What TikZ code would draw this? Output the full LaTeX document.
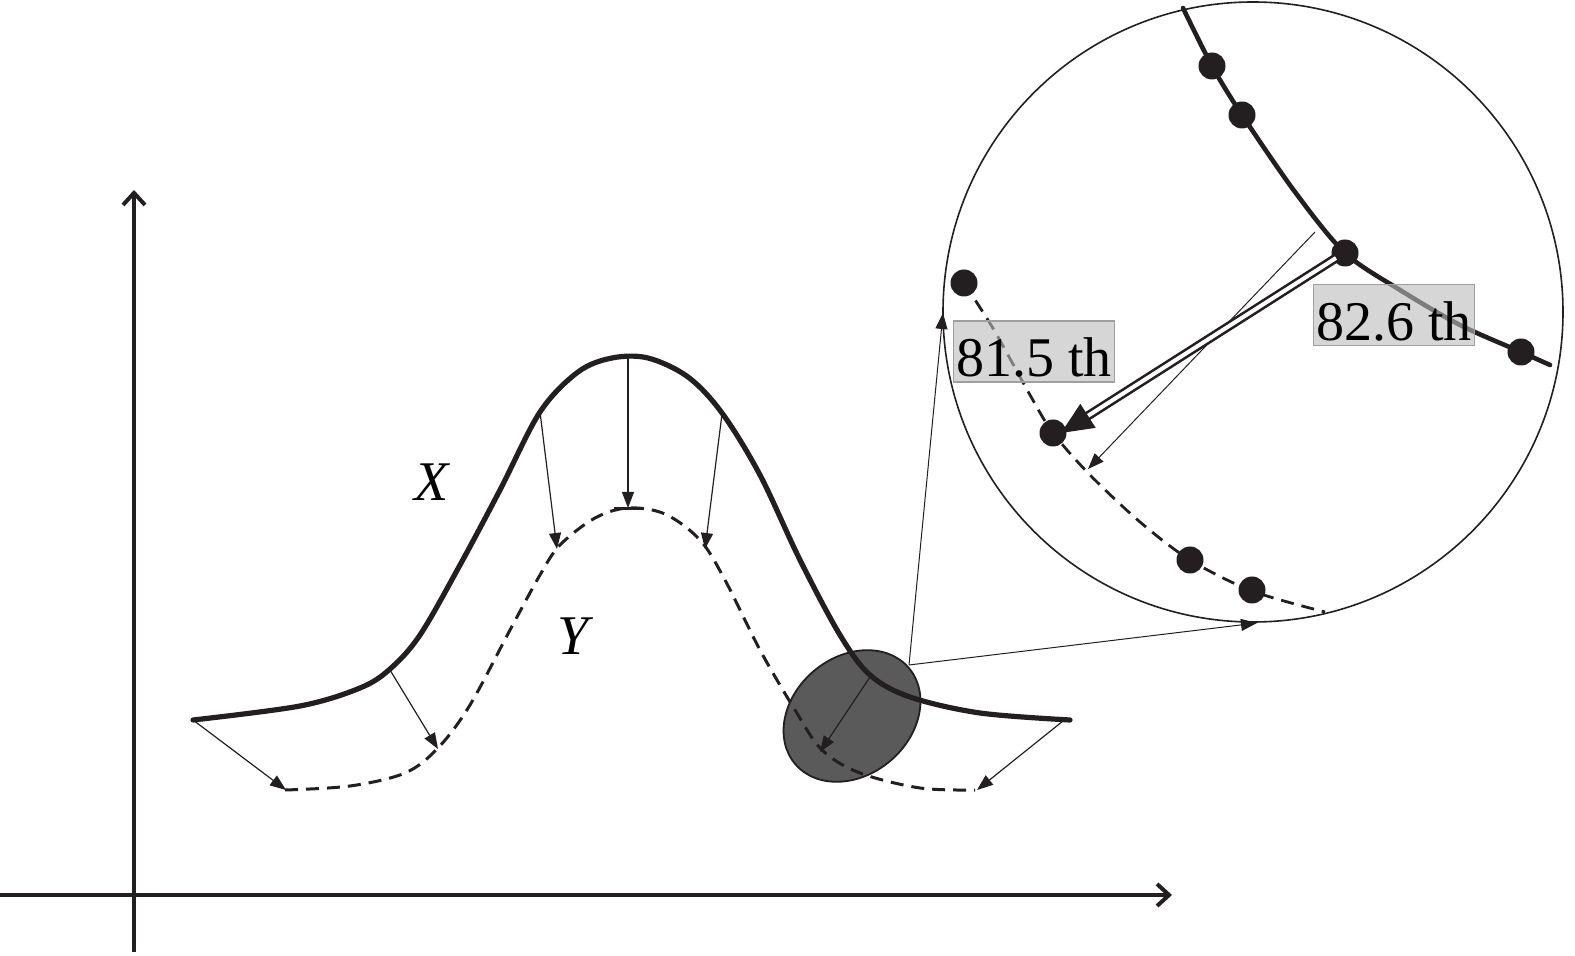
\documentclass[tikz,border=0pt]{standalone}
\usepackage{fontspec}
\setmainfont{Liberation Serif}
\usetikzlibrary{arrows.meta,calc}
\definecolor{ink}{HTML}{231F20}
\definecolor{boxgray}{HTML}{BBBBBB}
\definecolor{blob}{HTML}{5A5A5A}
\begin{document}
\begin{tikzpicture}[x=0.5pt,y=-0.5pt,
  axisline/.style={ink,line width=2pt,-{Straight Barb[length=6pt,width=11pt,line width=2pt]}},
  solidcurve/.style={ink,line width=2.6pt,line cap=round},
  dashcurve/.style={ink,line width=1.5pt,dash pattern=on 6.5pt off 4pt},
  thinarrow/.style={ink,line width=0.6pt,-{Triangle[length=8pt,width=6pt]}},
  dotmark/.style={circle,fill=ink,inner sep=0pt,minimum size=13.5pt},
  lbl/.style={draw=boxgray!85!black,fill=boxgray,fill opacity=0.6,text opacity=1,
    line width=0.6pt,inner xsep=1.5pt,inner ysep=2pt,text height=26pt,text depth=0.5pt,
    font=\fontsize{28}{30}\selectfont},
  varlbl/.style={font=\fontsize{28}{30}\selectfont\itshape}]
\useasboundingbox (0,0) rectangle (1575,956);

% blob (behind curves)
\draw[ink,line width=0.9pt,fill=blob,rotate around={40:(852,716)}] (852,716) ellipse [x radius=37.2pt, y radius=29.5pt];

% axes
\coordinate (ybot) at (134,952);
\coordinate (ytop) at (134,190);
\coordinate (xleft) at (0,895);
\coordinate (xright) at (1172,895);
\draw[axisline] (ybot) -- (ytop);
\draw[axisline] (xleft) -- (xright);

% curve X
\draw[solidcurve] plot[smooth,tension=0.55] coordinates {
 (193,720) (300,706) (360,688) (390,669) (420,635) (460,565) (500,490) (540,412)
 (578,372) (612,358) (648,358) (688,377) (722,413) (760,475) (800,560) (840,635)
 (870,675) (910,697) (980,713) (1070,720)};
% curve Y
\draw[dashcurve] plot[smooth,tension=0.55] coordinates {
 (285,790) (350,786) (405,773) (438,748) (470,705) (510,630) (540,575) (560,545)
 (595,518) (628,508) (665,514) (700,540) (725,580) (760,650) (795,710) (822,750)
 (860,773) (920,788) (975,790)};
\coordinate (tb1) at (614,509);
\coordinate (tb2) at (644,509);
\draw[ink,line width=1.5pt] (tb1) -- (tb2);

% arrows X -> Y
\coordinate (x1) at (193,720); \coordinate (y1) at (286,790);
\coordinate (x2) at (390,670); \coordinate (y2) at (438,749);
\coordinate (x3) at (540,412); \coordinate (y3) at (557,549);
\coordinate (x4) at (628,358); \coordinate (y4) at (628,508);
\coordinate (x5) at (722,414); \coordinate (y5) at (705,549);
\coordinate (x6) at (870,677); \coordinate (y6) at (820,752);
\coordinate (x7) at (1063,721); \coordinate (y7) at (977,790);
\foreach \a/\b in {x1/y1,x2/y2,x3/y3,x4/y4,x5/y5,x6/y6,x7/y7}
  \draw[thinarrow] (\a) -- (\b);

% magnifier circle
\coordinate (cc) at (1253,312);
\draw[ink,line width=0.8pt] (cc) circle [radius=155pt];
\coordinate (bs) at (909,665);
\coordinate (ct1) at (943,313);
\coordinate (ct2) at (1257,623);
\draw[thinarrow,line width=0.5pt] (bs) -- (ct1);
\draw[thinarrow,line width=0.5pt] (bs) -- (ct2);

% zoomed curves
\draw[solidcurve,line width=2.3pt] plot[smooth,tension=0.5] coordinates {
 (1183,8) (1212,66) (1242,115) (1295,192) (1345,253) (1400,290) (1460,325) (1521,352) (1550,365)};
\draw[dashcurve,line width=1.4pt] plot[smooth,tension=0.5] coordinates {
 (964,283) (994,330) (1030,395) (1053,433) (1090,475) (1140,522) (1190,560) (1252,591) (1325,612)};

% labels
\node[lbl] (l1) at (1034,351.5) {81.5 th};
\node[lbl] (l2) at (1394,315) {82.6 th};

% dots
\node[dotmark] (d1) at (1212,66) {};
\node[dotmark] (d2) at (1242,115) {};
\node[dotmark] (d3) at (1345,253) {};
\node[dotmark] (d4) at (1521,352) {};
\node[dotmark] (e1) at (964,283) {};
\node[dotmark] (e2) at (1053,433) {};
\node[dotmark] (e3) at (1190,560) {};
\node[dotmark] (e4) at (1252,590) {};

% thin and double arrows in circle
\coordinate (ts) at (1315,232);
\coordinate (te) at (1088,469);
\draw[thinarrow,line width=0.5pt] (ts) -- (te);
\coordinate (ds) at (1336,258);
\coordinate (de) at (1061,433);
\draw[ink,line width=1.3pt,double=white,double distance=2pt,shorten >=12pt] (ds) -- (de);
\draw[ink,line width=1pt,-{Triangle[length=16pt,width=14pt]}] ($(de)!14pt!(ds)$) -- (de);

% variable labels
\node[varlbl] (vx) at (432,482) {X};
\node[varlbl] (vy) at (573,636) {Y};
\end{tikzpicture}
\end{document}
